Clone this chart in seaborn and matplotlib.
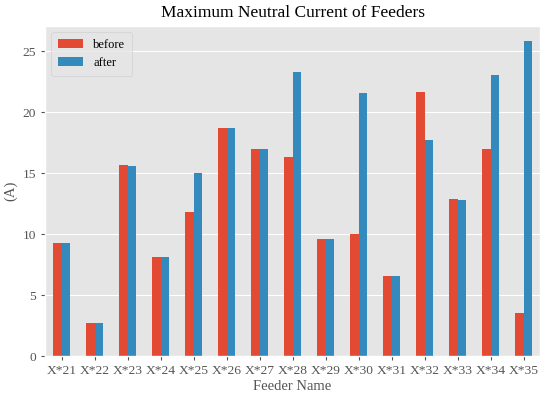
import matplotlib
matplotlib.use('Agg')
import matplotlib.pyplot as plt
import seaborn as sns
import pandas as pd

feeders = ['X*21', 'X*22', 'X*23', 'X*24', 'X*25', 'X*26', 'X*27', 'X*28',
           'X*29', 'X*30', 'X*31', 'X*32', 'X*33', 'X*34', 'X*35']
before = [9.3, 2.7, 15.7, 8.1, 11.85, 18.7, 17.0, 16.3, 9.6, 10.0, 6.6, 21.7, 12.85, 17.0, 3.5]
after = [9.3, 2.75, 15.6, 8.1, 15.05, 18.7, 17.0, 23.3, 9.6, 21.6, 6.6, 17.7, 12.8, 23.05, 25.85]

df = pd.DataFrame({'Feeder Name': feeders, 'before': before, 'after': after})
long_df = df.melt(id_vars='Feeder Name', var_name='period', value_name='current')

plt.style.use('ggplot')
plt.rcParams['font.family'] = ['Liberation Serif', 'DejaVu Serif']

fig = plt.figure(figsize=(5.5, 3.97), dpi=100)
ax = fig.add_axes([0.082, 0.103, 0.9, 0.832])

colors = ['#E24A33', '#348ABD']
sns.barplot(data=long_df, x='Feeder Name', y='current', hue='period',
            palette=colors, saturation=1, width=0.5, gap=0, linewidth=0, ax=ax)

ax.set_ylim(0, 27.1)
ax.set_xlim(-0.5, len(feeders) - 0.5)
ax.set_title('Maximum Neutral Current of Feeders', fontsize=12.5, color='black')
ax.set_xlabel('Feeder Name', fontsize=10.5, color='#555555', labelpad=2)
ax.set_ylabel('(A)', fontsize=10.5, color='#555555')
ax.tick_params(axis='both', labelsize=9.7, colors='#555555', length=3)
ax.legend(loc='upper left', fontsize=9, title=None, labelspacing=0.5,
          handletextpad=0.8, borderpad=0.55)

fig.savefig('out.png', dpi=100)
